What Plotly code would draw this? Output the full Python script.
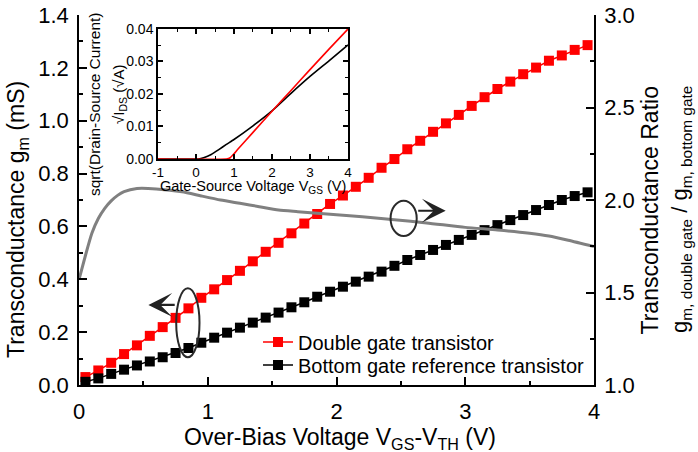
import plotly.graph_objects as go

# ---------------- data ----------------
over_bias = [0.05, 0.15, 0.25, 0.35, 0.45, 0.55, 0.65, 0.75, 0.85, 0.95,
             1.05, 1.15, 1.25, 1.35, 1.45, 1.55, 1.65, 1.75, 1.85, 1.95,
             2.05, 2.15, 2.25, 2.35, 2.45, 2.55, 2.65, 2.75, 2.85, 2.95,
             3.05, 3.15, 3.25, 3.35, 3.45, 3.55, 3.65, 3.75, 3.85, 3.95]
gm_double = [0.030, 0.055, 0.084, 0.117, 0.150, 0.186, 0.219, 0.254, 0.290, 0.330,
             0.362, 0.397, 0.432, 0.468, 0.504, 0.538, 0.574, 0.611, 0.647, 0.685,
             0.717, 0.750, 0.784, 0.822, 0.855, 0.892, 0.924, 0.958, 0.990, 1.022,
             1.056, 1.089, 1.120, 1.148, 1.176, 1.201, 1.227, 1.247, 1.268, 1.286]
gm_bottom = [0.012, 0.025, 0.042, 0.058, 0.074, 0.089, 0.105, 0.121, 0.140, 0.160,
             0.179, 0.198, 0.217, 0.236, 0.255, 0.274, 0.294, 0.313, 0.334, 0.353,
             0.372, 0.391, 0.410, 0.429, 0.451, 0.473, 0.492, 0.511, 0.530, 0.549,
             0.568, 0.586, 0.605, 0.624, 0.643, 0.662, 0.681, 0.700, 0.715, 0.729]

ratio_x = [0.0, 0.05, 0.1, 0.15, 0.2, 0.25, 0.3, 0.35, 0.45, 0.6, 0.8, 0.95, 1.1, 1.25,
           1.4, 1.55, 1.7, 1.85, 2.0, 2.2, 2.45, 2.7, 3.0, 3.25, 3.5, 3.65, 3.8, 4.0]
ratio_y = [1.57, 1.70, 1.82, 1.90, 1.955, 1.995, 2.025, 2.045, 2.062, 2.060, 2.045, 2.022,
           2.000, 1.982, 1.964, 1.946, 1.937, 1.928, 1.920, 1.910, 1.893, 1.876, 1.852,
           1.838, 1.820, 1.805, 1.782, 1.748]

inset_red_x = [-1.0, 0.8, 0.9, 1.0, 1.1, 1.5, 2.0, 2.5, 3.0, 3.5, 4.0]
inset_red_y = [0.0, 0.0, 0.0004, 0.0016, 0.0030, 0.0082, 0.0147, 0.0211, 0.0275, 0.0338, 0.0400]
inset_blk_x = [-1.0, 0.0, 0.1, 0.2, 0.4, 0.6, 0.8, 1.0, 1.5, 2.0, 2.5, 3.0, 3.5, 4.0]
inset_blk_y = [0.0, 0.0, 0.0001, 0.0004, 0.0014, 0.0029, 0.0045, 0.0060, 0.0102, 0.0148,
               0.0202, 0.0254, 0.0302, 0.0351]

inset_xtick_vals = [-1, 0, 1, 2, 3, 4]
inset_xtick_text = ["-1", "0", "1", "2", "3", "4"]

legend_names = ["Double gate transistor", "Bottom gate reference transistor"]

# ---------------- figure ----------------
FONT = "Liberation Sans, Arial, sans-serif"
fig = go.Figure()

fig.add_trace(go.Scatter(x=ratio_x, y=ratio_y, mode="lines", xaxis="x", yaxis="y2",
                         line=dict(color="#808080", width=3, shape="spline", smoothing=0.6),
                         showlegend=False, hoverinfo="skip"))
fig.add_trace(go.Scatter(x=over_bias, y=gm_double, mode="lines+markers", name=legend_names[0],
                         line=dict(color="#ff0000", width=1.5), legend="legend",
                         marker=dict(symbol="square", size=10, color="#ff0000")))
fig.add_trace(go.Scatter(x=over_bias, y=gm_bottom, mode="lines+markers", name=legend_names[1],
                         line=dict(color="#000000", width=1.5), legend="legend2",
                         marker=dict(symbol="square", size=10, color="#000000")))

fig.add_trace(go.Scatter(x=inset_blk_x, y=inset_blk_y, mode="lines", xaxis="x3", yaxis="y3",
                         line=dict(color="#000000", width=1.6, shape="spline", smoothing=0.5),
                         showlegend=False))
fig.add_trace(go.Scatter(x=inset_red_x, y=inset_red_y, mode="lines", xaxis="x3", yaxis="y3",
                         line=dict(color="#ff0000", width=1.6, shape="spline", smoothing=0.4),
                         showlegend=False))

axis_common = dict(showline=True, linecolor="black", linewidth=1.5, ticks="inside",
                   tickcolor="black", tickwidth=1.5, showgrid=False, zeroline=False,
                   automargin=False)

fig.update_layout(
    template="none",
    width=698, height=452,
    margin=dict(l=79, r=104, t=15, b=67, pad=0, autoexpand=False),
    plot_bgcolor="white", paper_bgcolor="white",
    font=dict(family=FONT, color="black"),
    xaxis=dict(range=[0, 4], dtick=1, ticklen=8, tickfont=dict(size=22),
               minor=dict(dtick=0.5, ticks="inside", ticklen=4, tickcolor="black", tickwidth=1.5),
               ticklabelstandoff=6, **axis_common),
    xaxis4=dict(range=[0, 4], dtick=1, ticklen=8, overlaying="x", side="top", anchor="y",
                showticklabels=False, **axis_common),
    yaxis=dict(range=[0, 1.4], dtick=0.2, tickformat=".1f", ticklen=8, tickfont=dict(size=22),
               minor=dict(dtick=0.1, ticks="inside", ticklen=4, tickcolor="black", tickwidth=1.5),
               ticklabelstandoff=4, **axis_common),
    yaxis2=dict(range=[1.0, 3.0], dtick=0.5, tickformat=".1f", ticklen=8, tickfont=dict(size=22),
                minor=dict(dtick=0.25, ticks="inside", ticklen=4, tickcolor="black", tickwidth=1.5),
                overlaying="y", side="right", anchor="x", ticklabelstandoff=4, **axis_common),
    xaxis3=dict(domain=[0.1534, 0.5223], anchor="y3", range=[-1, 4],
                tickmode="array", tickvals=inset_xtick_vals, ticktext=inset_xtick_text, ticklen=5,
                tickfont=dict(size=13.5), mirror="ticks",
                minor=dict(dtick=0.5, ticks="inside", ticklen=3, tickcolor="black", tickwidth=1.2),
                ticklabelstandoff=0, **axis_common),
    yaxis3=dict(domain=[0.6108, 0.9622], anchor="x3", range=[0, 0.04], dtick=0.01,
                tickformat=".2f", ticklen=5, tickfont=dict(size=14), mirror="ticks",
                minor=dict(dtick=0.005, ticks="inside", ticklen=3, tickcolor="black", tickwidth=1.2),
                ticklabelstandoff=0, **axis_common),
    legend=dict(x=0.3476, y=(385 - 342) / 370, xanchor="left", yanchor="middle",
                bgcolor="rgba(0,0,0,0)", font=dict(size=20, family=FONT), borderwidth=0),
    legend2=dict(x=0.3476, y=(385 - 365) / 370, xanchor="left", yanchor="middle",
                 bgcolor="rgba(0,0,0,0)", font=dict(size=20, family=FONT), borderwidth=0),
    showlegend=True,
)

# ellipses + arrows
fig.add_shape(type="circle", xref="x", yref="y", x0=0.755, x1=0.936, y0=0.105, y1=0.366,
              line=dict(color="#2a2a2a", width=2))
fig.add_shape(type="circle", xref="x", yref="y2", x0=2.42, x1=2.623, y0=1.805, y1=1.996,
              line=dict(color="#2a2a2a", width=2))
fig.add_annotation(x=0.539, y=0.303, ax=0.755, ay=0.303, xref="x", yref="y", axref="x", ayref="y",
                   showarrow=True, arrowhead=3, arrowsize=1.8, arrowwidth=2.2, arrowcolor="#222222",
                   text="")
fig.add_annotation(x=2.848, y=1.942, ax=2.623, ay=1.942, xref="x", yref="y2", axref="x", ayref="y2",
                   showarrow=True, arrowhead=3, arrowsize=1.8, arrowwidth=2.2, arrowcolor="#222222",
                   text="")

# titles
fig.add_annotation(text="Over-Bias Voltage V<sub>GS</sub>-V<sub>TH</sub> (V)", xref="paper", yref="paper",
                   x=0.507, y=-0.145, xanchor="center", yanchor="middle", showarrow=False,
                   font=dict(size=23))
fig.add_annotation(text="Transconductance g<sub>m</sub> (mS)", xref="paper", yref="paper",
                   x=-0.1184, y=0.446, xanchor="center", yanchor="middle", textangle=-90,
                   showarrow=False, font=dict(size=23))
fig.add_annotation(text="Transconductance Ratio", xref="paper", yref="paper",
                   x=(650 - 79) / 515, y=0.4716, xanchor="center", yanchor="middle", textangle=-90,
                   showarrow=False, font=dict(size=23))
fig.add_annotation(text="g<sub>m, double gate</sub> / g<sub>m, bottom gate</sub>", xref="paper", yref="paper",
                   x=(681 - 79) / 515, y=0.473, xanchor="center", yanchor="middle", textangle=-90,
                   showarrow=False, font=dict(size=22))
# inset titles
fig.add_annotation(text="Gate-Source Voltage V<sub>GS</sub> (V)", xref="paper", yref="paper",
                   x=(253 - 79) / 515, y=(385 - 187) / 370, xanchor="center", yanchor="middle",
                   showarrow=False, font=dict(size=14.5))
fig.add_annotation(text="sqrt(Drain-Source Current)", xref="paper", yref="paper",
                   x=(95 - 79) / 515, y=(385 - 105) / 370, xanchor="center", yanchor="middle",
                   textangle=-90, showarrow=False, font=dict(size=15.5))
fig.add_annotation(text="\u221aI<sub>DS</sub> (\u221aA)", xref="paper", yref="paper",
                   x=(119 - 79) / 515, y=(385 - 95) / 370, xanchor="center", yanchor="middle",
                   textangle=-90, showarrow=False, font=dict(size=15))

fig.write_html("out.html")
